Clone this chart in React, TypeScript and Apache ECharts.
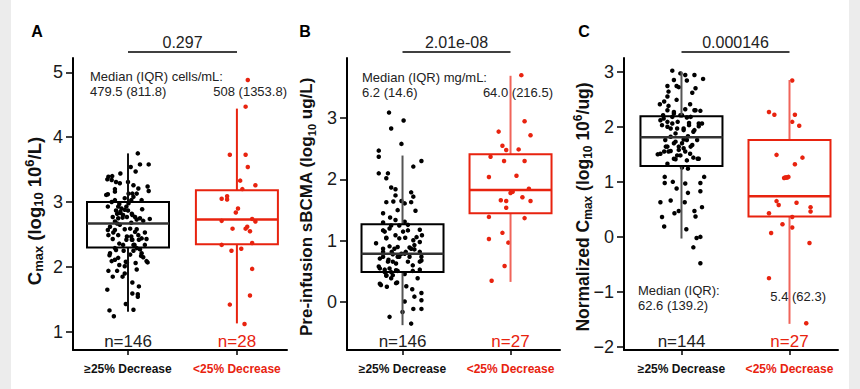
import React, { useEffect, useRef } from "react";
import * as echarts from "echarts";

const CATS = ["≥25% Decrease", "<25% Decrease"];
const N_A = ["n=146", "n=28"];
const N_B = ["n=146", "n=27"];
const N_C = ["n=144", "n=27"];
const P_VALUES = ["0.297", "2.01e-08", "0.000146"];

const TICKS_A = [1, 2, 3, 4, 5];
const TICKS_B = [0, 1, 2, 3];
const TICKS_C = [-2, -1, 0, 1, 2, 3];

// [low whisker, q1, median, q3, high whisker]
const BOX_A = [[1.31, 2.3, 2.67, 3.0, 3.75], [1.13, 2.35, 2.73, 3.18, 4.44]];
const BOX_B = [[-0.375, 0.49, 0.79, 1.27, 2.39], [0.33, 1.45, 1.83, 2.41, 3.69]];
const BOX_C = [[-0.03, 1.29, 1.81, 2.19, 3.0], [-1.58, 0.37, 0.74, 1.76, 2.85]];

// points: [jitter offset from category centre, value]
const A_GE25: [number, number][] = [
  [0.09, 3.75], [0.11, 3.58], [0.19, 3.58], [0.025, 3.54], [0.07, 3.47], [-0.07, 3.44], [-0.145, 3.4], [-0.19, 3.35],
  [-0.11, 3.31], [0, 3.31], [0.18, 3.24], [0.19, 3.17], [-0.12, 3.2], [-0.185, 3.12], [0.04, 3.13], [0.08, 3.13],
  [-0.03, 3.06], [-0.12, 3.03], [0.03, 3.03], [-0.08, 2.97], [-0.015, 2.93], [-0.185, 2.93], [0.13, 2.89], [-0.11, 2.87],
  [-0.07, 2.83], [0, 2.87], [0.04, 2.8], [-0.14, 2.77], [-0.05, 2.76], [0.08, 2.73], [0.2, 2.74], [0.14, 2.71],
  [-0.1, 2.67], [0.03, 2.68], [-0.185, 2.57], [-0.12, 2.57], [-0.03, 2.58], [0.08, 2.58], [-0.09, 2.49], [0.03, 2.47],
  [-0.14, 2.43], [-0.015, 2.42], [0.04, 2.42], [0.1, 2.42], [0.17, 2.43], [-0.08, 2.36], [0.06, 2.34], [-0.11, 2.26],
  [-0.04, 2.25], [0.05, 2.25], [0.11, 2.27], [-0.17, 2.18], [0.12, 2.17], [0.14, 2.15], [-0.12, 2.11], [-0.02, 2.08],
  [0.07, 2.06], [0.18, 2.07], [-0.08, 2.03], [-0.03, 2.01], [-0.1, 1.94], [0.08, 1.96], [-0.03, 1.9], [-0.14, 1.85],
  [-0.05, 1.85], [0.04, 1.76], [0.1, 1.7], [-0.19, 1.65], [0.04, 1.59], [0.09, 1.58], [0.09, 1.54], [-0.02, 1.43],
  [0.05, 1.34], [-0.17, 1.33], [-0.13, 1.24],
  [-0.09, 2.93], [-0.06, 2.9], [-0.03, 2.88], [-0.07, 2.85], [-0.1, 2.82], [-0.045, 2.8], [-0.01, 2.77], [-0.09, 2.75],
  [0.035, 2.82], [0.065, 2.77], [0.11, 2.75], [-0.12, 2.7], [-0.165, 2.62], [-0.075, 2.65], [0.02, 2.59], [0.065, 2.54],
  [0.095, 2.49], [-0.01, 2.47], [0.035, 2.42], [0.125, 2.44], [-0.135, 2.53], [-0.18, 2.49], [0.155, 2.53], [0.155, 2.34],
  [-0.12, 2.29], [-0.045, 2.34], [0.05, 2.34], [0.08, 2.29], [-0.165, 2.21], [0.125, 2.21], [0.02, 2.19], [-0.09, 2.14],
  [-0.15, 2.09], [-0.01, 2.07], [0.17, 2.09], [-0.18, 1.94],
  [-0.18, 3.39], [-0.15, 3.34], [-0.075, 3.29], [0.05, 3.26], [0.095, 3.21], [-0.12, 3.16], [0.005, 3.13], [-0.2, 3.11],
  [0.05, 3.08], [-0.15, 3.0], [0.125, 3.03], [0.005, 2.98],
];
const A_LT25: [number, number][] = [
  [0.1, 4.88], [0.08, 4.47], [-0.065, 3.73], [0.08, 3.73], [0.1, 3.54], [0.03, 3.33], [0.17, 3.26], [0.05, 3.2],
  [-0.14, 3.05], [-0.09, 3.09], [-0.09, 3.04], [0.01, 2.9], [-0.01, 2.84], [-0.14, 2.71], [0.14, 2.74], [0.17, 2.7],
  [-0.04, 2.59], [0.095, 2.62], [0.08, 2.59], [0.12, 2.55], [-0.14, 2.34], [0.14, 2.37], [-0.05, 2.25], [0.04, 2.28],
  [0.14, 1.97], [0.12, 1.56], [-0.065, 1.42], [0.07, 1.12],
];
const B_GE25: [number, number][] = [
  [-0.125, 3.09], [-0.105, 2.83], [0.01, 2.96], [-0.01, 2.58], [-0.22, 2.47], [-0.22, 2.37], [0.1, 2.21], [0.175, 2.3],
  [-0.22, 2.1], [-0.135, 2.1], [-0.15, 2.02], [-0.105, 1.87], [-0.065, 1.84], [0.08, 1.79], [0.1, 1.72], [-0.15, 1.63],
  [-0.085, 1.64], [-0.01, 1.65], [-0.065, 1.74], [0.02, 1.61], [0.08, 1.63], [0.12, 1.49], [-0.045, 1.5], [-0.18, 1.45],
  [-0.115, 1.38], [-0.065, 1.34], [0.02, 1.31], [-0.18, 1.3], [-0.105, 1.25], [-0.03, 1.25], [0.05, 1.17], [-0.18, 1.17],
  [0.16, 1.18], [-0.065, 1.09], [-0.15, 1.05], [0.025, 1.05], [0.1, 1.01], [0.18, 1.09], [-0.245, 0.96], [-0.12, 0.91],
  [-0.045, 0.9], [0.065, 0.89], [0.11, 0.86], [-0.18, 0.82], [-0.09, 0.78], [-0.03, 0.74], [0.02, 0.79], [0.175, 0.74],
  [-0.21, 0.71], [-0.135, 0.66], [-0.06, 0.63], [0.05, 0.66], [0.175, 0.68], [-0.22, 0.58], [-0.165, 0.53], [-0.105, 0.49],
  [-0.045, 0.51], [0.02, 0.46], [0.095, 0.51], [0.16, 0.53], [-0.15, 0.44], [0.14, 0.39], [-0.21, 0.3], [-0.145, 0.25],
  [-0.05, 0.32], [0.035, 0.26], [0.09, 0.21], [0.175, 0.15], [0.11, 0.09], [0.02, 0.01], [0.175, 0.03], [0.1, -0.11],
  [0.175, -0.11], [0, -0.16], [-0.12, -0.24], [0.08, -0.35],
  [-0.18, 0.74], [-0.13, 0.69], [-0.09, 0.66], [-0.045, 0.74], [-0.01, 0.79], [0.03, 0.82], [0.08, 0.87], [-0.1, 0.82],
  [-0.075, 0.87], [-0.12, 0.55], [-0.165, 0.49], [-0.21, 0.55], [-0.06, 0.52], [-0.09, 0.44], [-0.15, 0.43], [-0.105, 0.39],
  [0.11, 0.93], [0.16, 0.98], [0.13, 1.06], [-0.03, 1.04], [-0.165, 1.15], [-0.12, 1.2], [0.05, 1.26], [0.005, 1.15],
  [-0.15, 1.04], [-0.2, 0.28], [-0.06, 0.31], [0.095, 0.6], [0.16, 0.66], [0.065, 0.74], [0.16, 0.82], [-0.18, 0.87],
];
const B_LT25: [number, number][] = [
  [0.1, 3.7], [0.13, 2.95], [-0.11, 2.78], [0.185, 2.72], [-0.075, 2.55], [-0.04, 2.48], [0.075, 2.49], [-0.185, 2.37],
  [-0.06, 2.3], [0.13, 2.3], [-0.2, 2.04], [0.055, 2.06], [0.17, 1.85], [0, 1.78], [-0.09, 1.66], [-0.04, 1.65],
  [0.11, 1.71], [0.185, 1.65], [-0.04, 1.54], [-0.2, 1.39], [0.13, 1.37], [-0.075, 1.13], [-0.2, 1.03], [-0.02, 0.97],
  [-0.055, 0.59], [-0.175, 0.35], [0.02, 1.8],
];
const C_GE25: [number, number][] = [
  [-0.085, 3.02], [-0.01, 2.97], [0.035, 2.94], [0.12, 2.94], [0.2, 2.87], [-0.07, 2.85], [0.05, 2.84], [-0.13, 2.74],
  [-0.045, 2.74], [-0.025, 2.72], [-0.12, 2.64], [0.1, 2.62], [-0.13, 2.55], [0.13, 2.7], [-0.045, 2.49], [-0.16, 2.46],
  [-0.2, 2.41], [0.08, 2.41], [-0.12, 2.38], [-0.07, 2.27], [0.035, 2.32], [0.12, 2.3], [0.175, 2.29], [-0.17, 2.21],
  [-0.085, 2.18], [-0.01, 2.21], [0.05, 2.17], [-0.195, 2.12], [-0.13, 2.09], [-0.035, 2.09], [0.07, 2.07], [0.19, 2.06],
  [0.16, 2.01], [-0.1, 1.97], [0.02, 1.97], [0.11, 1.91], [-0.055, 1.88], [0.06, 1.83], [-0.15, 1.76], [0.02, 1.77],
  [-0.07, 1.7], [-0.13, 1.64], [-0.025, 1.64], [0.085, 1.64], [-0.1, 1.56], [0.035, 1.55], [-0.22, 1.5], [-0.16, 1.55],
  [-0.04, 1.48], [0.11, 1.44], [0.15, 1.42], [-0.13, 1.33], [-0.055, 1.41], [0.005, 1.26], [0.06, 1.24], [-0.155, 1.09],
  [0.21, 1.09], [-0.08, 1.0], [-0.155, 0.98], [0.035, 0.97], [0.175, 0.98], [-0.045, 0.88], [0.06, 0.8], [0.175, 0.83],
  [-0.195, 0.63], [-0.1, 0.66], [0.03, 0.63], [0.19, 0.54], [-0.025, 0.47], [-0.065, 0.43], [0.12, 0.47], [0.13, 0.37],
  [-0.18, 0.36], [-0.16, 0.19], [0.045, 0.14], [0.14, -0.02], [0.175, 0.0], [0.11, -0.19], [0.175, -0.48],
  [-0.18, 2.03], [-0.13, 2.0], [-0.085, 2.06], [-0.04, 1.97], [0.02, 1.94], [0.07, 2.03], [0.12, 1.94], [0.16, 2.06],
  [-0.1, 1.82], [-0.055, 1.73], [0.005, 1.7], [0.05, 1.76], [0.1, 1.67], [0.145, 1.76], [-0.145, 1.64], [-0.195, 1.51],
  [-0.12, 1.55], [-0.025, 1.58], [0.02, 1.61], [0.08, 1.51], [0.16, 1.42], [-0.07, 1.42], [-0.01, 1.48], [0.05, 1.39],
  [-0.165, 2.15], [-0.07, 2.24], [0.005, 2.21], [0.085, 2.18], [0.13, 2.3], [-0.13, 2.3],
];
const C_LT25: [number, number][] = [
  [0.025, 2.84], [-0.19, 2.27], [-0.14, 2.22], [0.05, 2.22], [0.025, 2.09], [0.09, 2.02], [-0.12, 1.49], [0.12, 1.44],
  [0.05, 1.32], [-0.03, 1.08], [-0.01, 1.09], [-0.05, 1.07], [-0.12, 0.65], [-0.1, 0.58], [0.065, 0.62], [0.195, 0.54],
  [0.195, 0.46], [-0.19, 0.43], [0.025, 0.36], [-0.065, 0.23], [0.025, 0.17], [-0.17, 0.07], [0.185, -0.11], [-0.19, -0.75],
  [0.155, -1.57], [-0.02, 1.08], [-0.04, 1.08],
];

const RED = "#e8230f";
const FONT = "Liberation Sans, Arial, sans-serif";

export default function App() {
  const ref = useRef<HTMLDivElement>(null);
  useEffect(() => {
    document.body.style.margin = "0";
    if (!ref.current) return;
    const chart = echarts.init(ref.current, null, { renderer: "svg" });

    const panels = [
      { left: 73, width: 214, xmin: 0.495, xmax: 2.46, ymin: 0.72, ymax: 5.22, ticks: TICKS_A, box: BOX_A, lo: A_GE25, hi: A_LT25, wBlack: "#111", wRed: RED, n: N_A },
      { left: 347, width: 213, xmin: 0.486, xmax: 2.458, ymin: -0.78, ymax: 3.98, ticks: TICKS_B, box: BOX_B, lo: B_GE25, hi: B_LT25, wBlack: "#555", wRed: "#f0645a", n: N_B },
      { left: 624, width: 214, xmin: 0.468, xmax: 2.449, ymin: -2.055, ymax: 3.25, ticks: TICKS_C, box: BOX_C, lo: C_GE25, hi: C_LT25, wBlack: "#555", wRed: "#f0645a", n: N_C },
    ];

    const grid = panels.map((p) => ({ left: p.left, top: 58, width: p.width, height: 292 }));
    const xAxis = panels.map((p, i) => ({
      type: "value",
      gridIndex: i,
      min: p.xmin,
      max: p.xmax,
      splitLine: { show: false },
      axisLine: { show: true, onZero: false, lineStyle: { color: "#000", width: 2 } },
      axisTick: { show: true, customValues: [1, 2], length: 5, lineStyle: { color: "#000", width: 1.5 } },
      axisLabel: {
        customValues: [1, 2],
        margin: 13,
        formatter: (v: number) => (Math.round(v) === 1 ? "{k|" + CATS[0] + "}" : "{r|" + CATS[1] + "}"),
        rich: {
          k: { fontFamily: FONT, fontSize: 12, fontWeight: "bold", color: "#111" },
          r: { fontFamily: FONT, fontSize: 12, fontWeight: "bold", color: RED },
        },
      },
    }));
    const yAxis = panels.map((p, i) => ({
      type: "value",
      gridIndex: i,
      min: p.ymin,
      max: p.ymax,
      splitLine: { show: false },
      axisLine: { show: true, onZero: false, lineStyle: { color: "#000", width: 2 } },
      axisTick: { show: true, customValues: p.ticks, length: 7, lineStyle: { color: "#000", width: 1.5 } },
      axisLabel: {
        customValues: p.ticks,
        margin: 10,
        fontFamily: FONT,
        fontSize: 18,
        color: "#1a1a1a",
        formatter: (v: number) => (v < 0 ? "−" + Math.abs(v) : String(v)),
      },
    }));

    const series: any[] = [];
    panels.forEach((p, i) => {
      series.push({
        type: "scatter",
        xAxisIndex: i,
        yAxisIndex: i,
        symbolSize: 4.5,
        itemStyle: { color: "#000", opacity: 1 },
        data: p.lo.map(([dx, v]) => [1 + dx, v]),
        z: 2,
      });
      series.push({
        type: "scatter",
        xAxisIndex: i,
        yAxisIndex: i,
        symbolSize: 4.5,
        itemStyle: { color: RED, opacity: 1 },
        data: p.hi.map(([dx, v]) => [2 + dx, v]),
        z: 2,
      });
      series.push({
        type: "custom",
        xAxisIndex: i,
        yAxisIndex: i,
        z: 3,
        encode: { x: 0, y: [1, 2, 3, 4, 5] },
        data: p.box.map((b, j) => [j + 1, ...b]),
        renderItem: (params: any, api: any) => {
          const j = params.dataIndex;
          const x = api.value(0);
          const pLo = api.coord([x, api.value(1)]);
          const pQ1 = api.coord([x, api.value(2)]);
          const pMed = api.coord([x, api.value(3)]);
          const pQ3 = api.coord([x, api.value(4)]);
          const pHi = api.coord([x, api.value(5)]);
          const half = 41;
          const boxColor = j === 0 ? "#000" : RED;
          const wColor = j === 0 ? p.wBlack : p.wRed;
          const cx = pMed[0];
          return {
            type: "group",
            children: [
              { type: "line", shape: { x1: cx, y1: pHi[1], x2: cx, y2: pQ3[1] }, style: { stroke: wColor, lineWidth: 2 } },
              { type: "line", shape: { x1: cx, y1: pQ1[1], x2: cx, y2: pLo[1] }, style: { stroke: wColor, lineWidth: 2 } },
              {
                type: "rect",
                shape: { x: cx - half, y: pQ3[1], width: half * 2, height: pQ1[1] - pQ3[1] },
                style: { fill: "none", stroke: boxColor, lineWidth: 2 },
              },
              {
                type: "line",
                shape: { x1: cx - half, y1: pMed[1], x2: cx + half, y2: pMed[1] },
                style: { stroke: j === 0 ? "#333" : RED, lineWidth: 2.5 },
              },
            ],
          };
        },
      });
    });

    const centers = [
      [128, 237],
      [402.5, 510.5],
      [681.5, 789.5],
    ];
    const txt = (x: number, y: number, text: string, o: any = {}) => ({
      type: "text",
      x,
      y,
      z: 10,
      style: { text, fontFamily: FONT, fontSize: 13, fill: "#222", align: "left", verticalAlign: "middle", ...o },
    });

    const mkRich = (base: number, sub: number) => ({
      b: { fontFamily: FONT, fontSize: base, fontWeight: "bold", fill: "#111", lineHeight: 22, verticalAlign: "middle" },
      s: { fontFamily: FONT, fontSize: sub, fontWeight: "bold", fill: "#111", lineHeight: sub + 1, verticalAlign: "bottom" },
      p: { fontFamily: FONT, fontSize: sub, fontWeight: "bold", fill: "#111", lineHeight: sub + 1, verticalAlign: "top" },
    });
    const ytitle = (x: number, y: number, text: string, base: number, sub: number) => ({
      type: "text",
      x,
      y,
      rotation: Math.PI / 2,
      z: 10,
      style: { text, rich: mkRich(base, sub), align: "center", verticalAlign: "middle" },
    });

    const graphic: any[] = [
      { type: "rect", shape: { x: 0, y: 0, width: 11, height: 389 }, style: { fill: "#ececec" }, z: 0 },
      { type: "rect", shape: { x: 849, y: 0, width: 11, height: 389 }, style: { fill: "#ececec" }, z: 0 },
      txt(37, 31, "A", { fontSize: 16, fontWeight: "bold", align: "center", fill: "#000" }),
      txt(305, 31, "B", { fontSize: 16, fontWeight: "bold", align: "center", fill: "#000" }),
      txt(584, 31, "C", { fontSize: 16, fontWeight: "bold", align: "center", fill: "#000" }),
      ytitle(34, 211, "{b|C}{s|max}{b| (log}{s|10}{b| 10}{p|6}{b|/L)}", 18.5, 13),
      ytitle(306, 207, "{b|Pre-infusion sBCMA (log}{s|10}{b| ug/L)}", 17, 11),
      ytitle(583, 207, "{b|Normalized C}{s|max}{b| (log}{s|10}{b| 10}{p|6}{b|/ug)}", 17.5, 12),
      txt(90, 76, "Median (IQR) cells/mL:"),
      txt(90, 91, "479.5 (811.8)"),
      txt(287, 91, "508 (1353.8)", { align: "right" }),
      txt(362, 77, "Median (IQR) mg/mL:"),
      txt(362, 92, "6.2 (14.6)"),
      txt(553, 92, "64.0 (216.5)", { align: "right" }),
      txt(638, 290, "Median (IQR):"),
      txt(638, 305, "62.6 (139.2)"),
      txt(826, 296, "5.4 (62.3)", { align: "right" }),
    ];
    const nLabels = [N_A, N_B, N_C];
    centers.forEach((c, i) => {
      graphic.push(txt((c[0] + c[1]) / 2, 42, P_VALUES[i], { fontSize: 16, align: "center" }));
      graphic.push({ type: "line", z: 10, shape: { x1: c[0], y1: 52, x2: c[1], y2: 52 }, style: { stroke: "#000", lineWidth: 1.6 } });
      graphic.push(txt(c[0], 341, nLabels[i][0], { fontSize: 17, align: "center" }));
      graphic.push(txt(c[1], 341, nLabels[i][1], { fontSize: 17, align: "center", fill: RED }));
    });

    chart.setOption({
      animation: false,
      backgroundColor: "#fff",
      textStyle: { fontFamily: FONT },
      grid,
      xAxis,
      yAxis,
      series,
      graphic,
    });
    return () => chart.dispose();
  }, []);
  return <div ref={ref} style={{ width: 860, height: 389 }} />;
}
